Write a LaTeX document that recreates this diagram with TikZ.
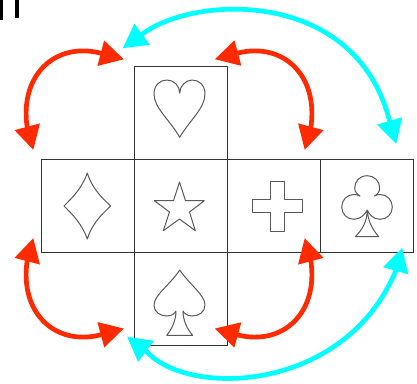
\documentclass[tikz,border=0pt]{standalone}
\usepackage{tikz}
\usetikzlibrary{arrows.meta,positioning,calc}

\definecolor{swapr}{RGB}{255,42,0}
\definecolor{swapc}{RGB}{0,255,255}

\tikzset{
  face/.style={draw=black!80, line width=0.9pt, minimum size=93pt, inner sep=0pt, outer sep=0pt},
  suit/.style={draw=black!65, line width=1pt, line join=round},
  swapred/.style={draw=swapr, line width=4.7pt, {Triangle[length=24pt,width=25pt]}-{Triangle[length=24pt,width=25pt]}},
  swapcyan/.style={draw=swapc, line width=4.7pt, {Triangle[length=24pt,width=25pt]}-{Triangle[length=24pt,width=25pt]}}
}

\begin{document}
\begin{tikzpicture}[x=1pt, y=-1pt]
\useasboundingbox (0,0) rectangle (417,383);

% cut-off mark in the corner
\fill[black] (0,0) rectangle (3,20);
\fill[black] (15,0) rectangle (19,18);

% cube net
\node[face] (heart) at (180.5,112.5) {};
\node[face, below=0pt of heart] (star) {};
\node[face, left=0pt of star] (diamond) {};
\node[face, right=0pt of star] (plus) {};
\node[face, right=0pt of plus] (club) {};
\node[face, below=0pt of star] (spade) {};

% suits
\draw[suit] (179.7,137.3) .. controls (170,120) and (154,108) .. (154,94)
  .. controls (154,85) and (160,80) .. (167,80) .. controls (174,80) and (179.7,86) .. (179.7,93)
  .. controls (179.7,86) and (186,80) .. (192,80) .. controls (199,80) and (205,85) .. (205,94)
  .. controls (205,108) and (190,120) .. (179.7,137.3) -- cycle;
\draw[suit] (87.3,173) .. controls (82,188) and (73,197) .. (64,206)
  .. controls (73,215) and (82,224) .. (87.3,239)
  .. controls (92,224) and (101,215) .. (110.7,206)
  .. controls (101,197) and (92,188) .. (87.3,173) -- cycle;
\draw[suit] (179.5,182) -- (185.5,200.7) -- (204.3,200.7) -- (189.5,212) -- (195.3,230.7)
  -- (179.5,219) -- (163.3,230.7) -- (169.5,212) -- (154.3,200.7) -- (173.5,200.7) -- cycle;
\draw[suit] (270.7,181) -- (284,181) -- (284,199.3) -- (302.7,199.3) -- (302.7,212.7) -- (284,212.7)
  -- (284,231.3) -- (270.7,231.3) -- (270.7,212.7) -- (252,212.7) -- (252,199.3) -- (270.7,199.3) -- cycle;
\draw[suit] (179.7,270) .. controls (170,285) and (154,295) .. (154,305)
  .. controls (154,312) and (160,316) .. (167,316) .. controls (172,316) and (175,313) .. (176,311)
  .. controls (176,320) and (172,329) .. (166.7,335.3) -- (192.7,335.3)
  .. controls (187,329) and (183,320) .. (183,311)
  .. controls (184,313) and (187,316) .. (192,316) .. controls (199,316) and (205,312) .. (205,305)
  .. controls (205,295) and (190,285) .. (179.7,270) -- cycle;
\draw[suit] (367.3,210) .. controls (367,222) and (362,230) .. (355.3,236.7) -- (378.7,236.7)
  .. controls (373,230) and (368,222) .. (367.3,210)
  .. controls (369,214) and (373,219.3) .. (380,219.3) .. controls (387,219.3) and (392.3,214) .. (392.3,207)
  .. controls (392.3,200) and (387,194.5) .. (380,194.5) .. controls (378,194.5) and (376,195) .. (374.5,196)
  .. controls (377.5,194) and (379.7,192) .. (379.7,188) .. controls (379.7,181) and (374,175.7) .. (367.3,175.7)
  .. controls (360,175.7) and (354.7,181) .. (354.7,188) .. controls (354.7,192) and (357,194) .. (360,196)
  .. controls (358,195) and (356,194.5) .. (354,194.5) .. controls (347,194.5) and (341.7,200) .. (341.7,207)
  .. controls (341.7,214) and (347,219.3) .. (354,219.3) .. controls (361,219.3) and (365,214) .. (367.3,210) -- cycle;

% ends of the arcs
\coordinate (tla) at (33.3,150);
\coordinate (tlb) at (124,59.3);
\coordinate (tra) at (304.7,150);
\coordinate (trb) at (214.7,59.3);
\coordinate (bla) at (33.3,238);
\coordinate (blb) at (124,328.5);
\coordinate (bra) at (304.7,238);
\coordinate (brb) at (214.7,328.5);
\coordinate (cta) at (122.7,48.3);
\coordinate (ctb) at (396.3,144);
\coordinate (cba) at (127,336.7);
\coordinate (cbb) at (402.3,247.7);

% straight bit under each head, then the bend
\draw[swapred] (tla) -- (27,126) .. controls (20,75) and (55,42) .. (100,53) -- (tlb);
\draw[swapred] (tra) -- (311,126) .. controls (318,75) and (283,42) .. (238,53) -- (trb);
\draw[swapred] (bla) -- (27,262) .. controls (20,313) and (55,346) .. (100,335) -- (blb);
\draw[swapred] (bra) -- (311,262) .. controls (318,313) and (283,346) .. (238,335) -- (brb);
\draw[swapcyan] (cta) -- (142.8,33.7) .. controls (195,-5) and (355,-12) .. (389.3,120) -- (ctb);
\draw[swapcyan] (cba) -- (146.8,351.8) .. controls (190,398) and (345,392) .. (395.5,271.2) -- (cbb);
\end{tikzpicture}
\end{document}
